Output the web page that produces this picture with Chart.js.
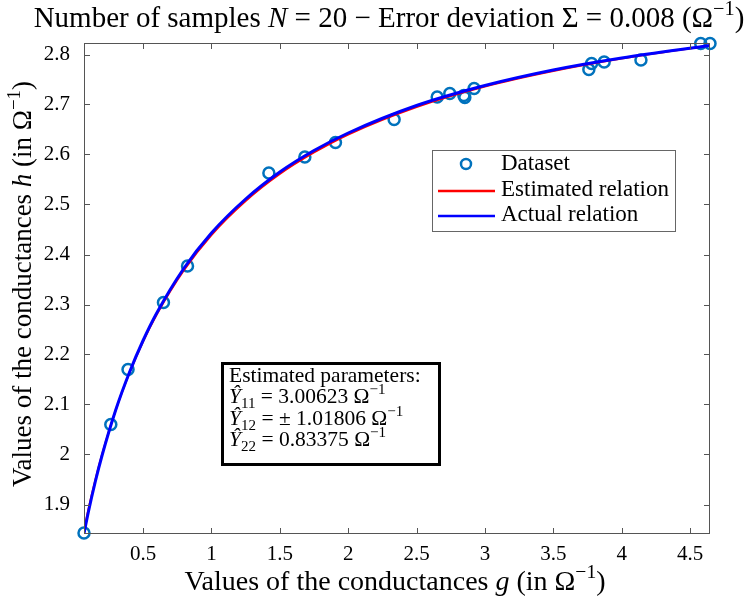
<!DOCTYPE html>
<html>
<head>
<meta charset="utf-8">
<script src="https://cdn.jsdelivr.net/npm/chart.js@4"></script>
<style>
  html, body { margin: 0; padding: 0; background: #fff; }
  #wrap { width: 747px; height: 599px; }
</style>
</head>
<body>
<div id="wrap"><canvas id="fitChart" width="747" height="599"></canvas></div>
<script>
// measured samples (g, h)
const sampleG = [0.068, 0.264, 0.390, 0.649, 0.825, 1.420, 1.683, 1.907, 2.336, 2.651,
                 2.743, 2.846, 2.853, 2.921, 3.760, 3.780, 3.872, 4.141, 4.578, 4.646];
const sampleH = [1.843, 2.060, 2.170, 2.304, 2.377, 2.563, 2.595, 2.624, 2.670, 2.715,
                 2.722, 2.718, 2.714, 2.732, 2.770, 2.782, 2.785, 2.789, 2.822, 2.822];

// curves
const curveG = [0.068, 0.1, 0.15, 0.2, 0.3, 0.4, 0.5, 0.6, 0.8, 1.0, 1.25, 1.5, 1.75, 2.0, 2.5, 3.0, 3.5, 4.0, 4.646];
const estimatedH = [1.848, 1.890, 1.948, 2.000, 2.089, 2.163, 2.226, 2.280, 2.369, 2.439, 2.507, 2.561, 2.604, 2.640, 2.695, 2.736, 2.767, 2.792, 2.818];
const actualH = [1.842, 1.885, 1.945, 1.998, 2.089, 2.164, 2.228, 2.283, 2.373, 2.443, 2.511, 2.565, 2.608, 2.643, 2.698, 2.738, 2.769, 2.793, 2.818];

const xTicks = [0.5, 1, 1.5, 2, 2.5, 3, 3.5, 4, 4.5];
const yTicks = [1.9, 2, 2.1, 2.2, 2.3, 2.4, 2.5, 2.6, 2.7, 2.8];

const SERIF = '"Liberation Serif", "DejaVu Serif", serif';

function pts(xs, ys) {
    return xs.map((x, i) => ({ x: x, y: ys[i] }));
}

// draw a line of text made of runs: {t, it, sup, sub}
function runWidth(ctx, runs, size) {
    let w = 0;
    runs.forEach(r => {
        const s = (r.sup || r.sub) ? size * 0.7 : size;
        ctx.font = (r.it ? 'italic ' : '') + s + 'px ' + SERIF;
        w += ctx.measureText(r.t).width;
    });
    return w;
}
function drawRuns(ctx, runs, x, y, size, align) {
    let cx = x;
    if (align === 'center') cx = x - runWidth(ctx, runs, size) / 2;
    ctx.textBaseline = 'alphabetic';
    ctx.textAlign = 'left';
    runs.forEach(r => {
        const s = (r.sup || r.sub) ? size * 0.7 : size;
        let dy = 0;
        if (r.sup) dy = -size * 0.42;
        if (r.sub) dy = size * 0.25;
        ctx.font = (r.it ? 'italic ' : '') + s + 'px ' + SERIF;
        ctx.fillText(r.t, cx, y + dy);
        cx += ctx.measureText(r.t).width;
    });
}
function txt(t, extra) { return Object.assign({ t: t }, extra || {}); }

const decorPlugin = {
    id: 'decor',
    afterDraw(chart) {
        const ctx = chart.ctx;
        const a = chart.chartArea;
        const xs = chart.scales.x, ys = chart.scales.y;
        ctx.save();

        // axes box with inward ticks
        ctx.strokeStyle = '#555';
        ctx.lineWidth = 1;
        ctx.strokeRect(a.left + 0.5, a.top + 0.5, a.right - a.left - 1, a.bottom - a.top - 1);
        ctx.beginPath();
        xTicks.forEach(v => {
            const p = Math.round(xs.getPixelForValue(v)) + 0.5;
            ctx.moveTo(p, a.bottom); ctx.lineTo(p, a.bottom - 6);
            ctx.moveTo(p, a.top); ctx.lineTo(p, a.top + 6);
        });
        yTicks.forEach(v => {
            const p = Math.round(ys.getPixelForValue(v)) + 0.5;
            ctx.moveTo(a.left, p); ctx.lineTo(a.left + 6, p);
            ctx.moveTo(a.right, p); ctx.lineTo(a.right - 6, p);
        });
        ctx.stroke();

        ctx.fillStyle = '#000';
        // title
        drawRuns(ctx, [txt('Number of samples '), txt('N', { it: true }), txt(' = 20 − Error deviation Σ = 0.008 (Ω'),
            txt('−1', { sup: true }), txt(')')], 389, 27, 29, 'center');
        // x axis title
        drawRuns(ctx, [txt('Values of the conductances '), txt('g', { it: true }), txt(' (in Ω'), txt('−1', { sup: true }), txt(')')],
            395, 590, 28, 'center');
        // y axis title
        ctx.save();
        ctx.translate(31, 284);
        ctx.rotate(-Math.PI / 2);
        drawRuns(ctx, [txt('Values of the conductances '), txt('h', { it: true }), txt(' (in Ω'), txt('−1', { sup: true }), txt(')')],
            0, 0, 27, 'center');
        ctx.restore();

        // legend
        const ds = chart.data.datasets;
        ctx.fillStyle = '#fff';
        ctx.fillRect(432, 150, 243, 81);
        ctx.strokeStyle = '#666';
        ctx.lineWidth = 1;
        ctx.strokeRect(432.5, 150.5, 243, 81);
        ctx.strokeStyle = ds[0].borderColor;
        ctx.lineWidth = 2.5;
        ctx.beginPath();
        ctx.arc(466, 164, 5, 0, Math.PI * 2);
        ctx.stroke();
        [[1, 191], [2, 216]].forEach(([i, y]) => {
            ctx.strokeStyle = ds[i].borderColor;
            ctx.lineWidth = 2.5;
            ctx.beginPath();
            ctx.moveTo(438, y); ctx.lineTo(495, y);
            ctx.stroke();
        });
        ctx.fillStyle = '#000';
        ctx.font = '23px ' + SERIF;
        ctx.textAlign = 'left';
        ctx.textBaseline = 'middle';
        ctx.fillText(ds[0].label, 501, 164);
        ctx.fillText(ds[1].label, 501, 190);
        ctx.fillText(ds[2].label, 501, 215);

        // parameter box
        ctx.fillStyle = '#fff';
        ctx.fillRect(221, 362, 220, 104);
        ctx.strokeStyle = '#000';
        ctx.lineWidth = 3;
        ctx.strokeRect(222.5, 363.5, 217, 101);
        ctx.fillStyle = '#000';
        drawRuns(ctx, [txt('Estimated parameters:')], 229, 382, 21.5);
        drawRuns(ctx, [txt('Ŷ', { it: true }), txt('11', { sub: true }), txt(' = 3.00623 Ω'), txt('−1', { sup: true })], 229, 403, 21.5);
        drawRuns(ctx, [txt('Ŷ', { it: true }), txt('12', { sub: true }), txt(' = ± 1.01806 Ω'), txt('−1', { sup: true })], 229, 425, 21.5);
        drawRuns(ctx, [txt('Ŷ', { it: true }), txt('22', { sub: true }), txt(' = 0.83375 Ω'), txt('−1', { sup: true })], 229, 446, 21.5);

        ctx.restore();
    }
};

const fitChart = new Chart(document.getElementById('fitChart').getContext('2d'), {
    type: 'scatter',
    data: {
        datasets: [{
            label: 'Dataset',
            data: pts(sampleG, sampleH),
            showLine: false,
            clip: false,
            borderColor: '#0072BD',
            backgroundColor: 'rgba(0,0,0,0)',
            borderWidth: 2.5,
            pointRadius: 5.5,
            order: 3
        }, {
            label: 'Estimated relation',
            data: pts(curveG, estimatedH),
            showLine: true,
            borderColor: '#ff0000',
            borderWidth: 2,
            pointRadius: 0,
            cubicInterpolationMode: 'monotone',
            order: 2
        }, {
            label: 'Actual relation',
            data: pts(curveG, actualH),
            showLine: true,
            borderColor: '#0000ff',
            borderWidth: 3,
            pointRadius: 0,
            cubicInterpolationMode: 'monotone',
            order: 1
        }]
    },
    options: {
        responsive: false,
        animation: false,
        devicePixelRatio: 1,
        layout: { padding: { left: 0, top: 43, right: 37, bottom: 0 } },
        plugins: {
            legend: { display: false },
            tooltip: { enabled: false }
        },
        scales: {
            x: {
                type: 'linear',
                min: 0.068,
                max: 4.646,
                grid: { display: false },
                border: { display: false },
                afterBuildTicks: s => { s.ticks = xTicks.map(v => ({ value: v })); },
                afterFit: s => { s.height = 65; },
                ticks: {
                    color: '#000',
                    font: { family: SERIF, size: 21 },
                    padding: 0,
                    maxRotation: 0,
                    autoSkip: false,
                    callback: v => String(v)
                }
            },
            y: {
                type: 'linear',
                min: 1.841,
                max: 2.823,
                grid: { display: false },
                border: { display: false },
                afterBuildTicks: s => { s.ticks = yTicks.map(v => ({ value: v })); },
                afterFit: s => { s.width = 84; },
                ticks: {
                    color: '#000',
                    font: { family: SERIF, size: 21 },
                    padding: 6,
                    autoSkip: false,
                    callback: v => String(v)
                }
            }
        }
    },
    plugins: [decorPlugin]
});
</script>
</body>
</html>
